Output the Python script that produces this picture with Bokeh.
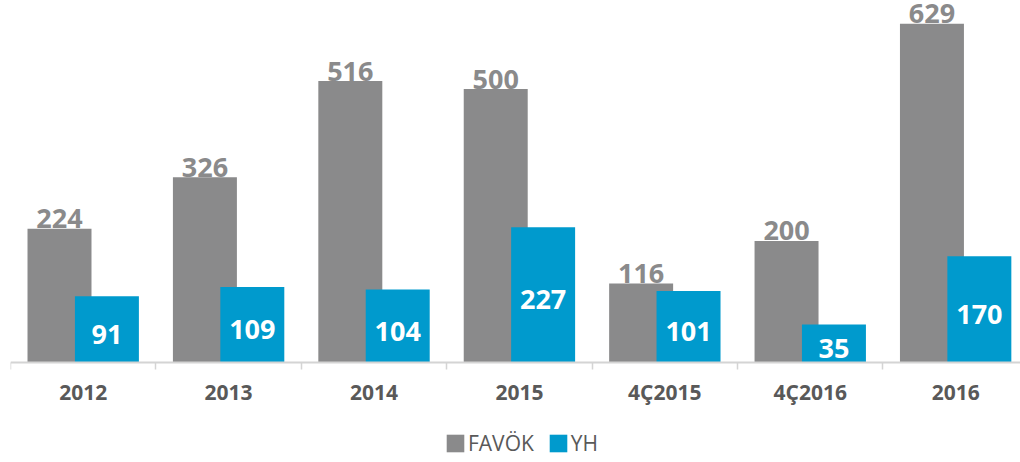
from bokeh.plotting import figure
from bokeh.models import Range1d, FixedTicker, Legend, LegendItem
from bokeh.core.properties import value
from bokeh.embed import file_html
from bokeh.resources import INLINE

categories = ["2012", "2013", "2014", "2015", "4Ç2015", "4Ç2016", "2016"]
favok = [224, 326, 516, 500, 116, 200, 629]
yh = [91, 109, 104, 227, 101, 35, 170]
series_names = ["FAVÖK", "YH"]

AXIS_MIN = -40
AXIS_MAX = 675
RANGE_BOTTOM = -237.5

GRAY = "#8A8A8B"
BLUE = "#009ACD"
DARK = "#595959"
AXIS_C = "#D4D4D4"
FONT = "Open Sans"

xs = list(range(len(categories)))
OFF = 0.163
BW = 0.44
gx = [i - OFF for i in xs]
bx = [i + OFF for i in xs]
bounds = [i - 0.5 for i in xs] + [xs[-1] + 0.5]

p = figure(frame_width=1010, frame_height=462, output_backend="svg",
           toolbar_location=None, y_axis_location=None,
           x_range=Range1d(-0.5, 6.446), y_range=Range1d(RANGE_BOTTOM, AXIS_MAX),
           min_border_left=10, min_border_right=0, min_border_top=0,
           min_border_bottom=0)
p.outline_line_color = None
p.xgrid.visible = False
p.ygrid.visible = False
p.background_fill_color = "white"

r_g = p.vbar(x=gx, top=favok, bottom=AXIS_MIN, width=BW, fill_color=GRAY, line_color=None)
r_b = p.vbar(x=bx, top=yh, bottom=AXIS_MIN, width=BW, fill_color=BLUE, line_color=None)

p.text(x=gx, y=favok, text=[str(v) for v in favok], text_align="center",
       text_baseline="middle", y_offset=-10,
       text_font=value(FONT), text_font_style="bold", text_font_size="27px",
       text_color=GRAY)
p.text(x=bx, y=[(AXIS_MIN + v) / 2 for v in yh], text=[str(v) for v in yh],
       text_align="center", text_baseline="middle", y_offset=5,
       text_font=value(FONT), text_font_style="bold", text_font_size="27px",
       text_color="white")

ax = p.xaxis[0]
ax.fixed_location = AXIS_MIN
ax.ticker = FixedTicker(ticks=xs, minor_ticks=bounds)
ax.major_label_overrides = {i: c for i, c in zip(xs, categories)}
ax.major_tick_in = 0
ax.major_tick_out = 0
ax.major_tick_line_color = None
ax.minor_tick_in = 0
ax.minor_tick_out = 7
ax.minor_tick_line_color = AXIS_C
ax.minor_tick_line_width = 1.5
ax.axis_line_color = AXIS_C
ax.axis_line_width = 2
ax.major_label_standoff = 8
ax.major_label_text_font = FONT
ax.major_label_text_font_style = "bold"
ax.major_label_text_font_size = "21px"
ax.major_label_text_color = DARK

legend = Legend(items=[LegendItem(label=series_names[0], renderers=[r_g]),
                       LegendItem(label=series_names[1], renderers=[r_b])],
                orientation="horizontal", location=(434, 5),
                glyph_width=22, glyph_height=22, label_height=22,
                label_standoff=2, spacing=13,
                label_text_font=FONT, label_text_font_size="21px",
                label_text_color=DARK, padding=0, margin=0,
                border_line_alpha=0, background_fill_alpha=0)
p.add_layout(legend, "center")

open("out.html", "w").write(file_html(p, INLINE))
